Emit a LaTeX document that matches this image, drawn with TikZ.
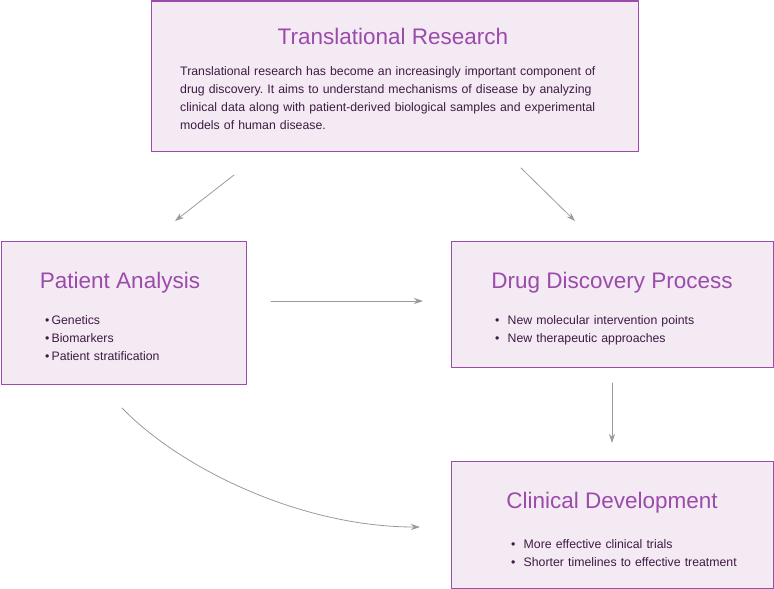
\documentclass[tikz,border=0pt]{standalone}
\usepackage{fontspec}
\setmainfont{Liberation Sans}
\usetikzlibrary{arrows.meta}
\definecolor{boxline}{HTML}{9B4BAA}
\definecolor{boxfill}{HTML}{F3EAF4}
\definecolor{ttlcol}{HTML}{9B4BAA}
\definecolor{txtcol}{HTML}{3F1B43}
\definecolor{arrcol}{HTML}{9A9A9A}
\frenchspacing
\begin{document}
\begin{tikzpicture}[x=1pt,y=-1pt,>={Stealth[length=9pt,width=6pt]},line join=round,line cap=round,
	box/.style={draw=boxline,fill=boxfill,line width=1pt,inner sep=0pt,anchor=north west},
	ttl/.style={text=ttlcol,font=\fontsize{22.5}{26}\selectfont,anchor=base,inner sep=0pt},
	txt/.style={text=txtcol,font=\fontsize{12.3}{18}\selectfont,align=left,anchor=base west,inner sep=0pt},
	conn/.style={->,draw=arrcol,line width=0.8pt}]
		\useasboundingbox (0,0) rectangle (774,589);
		% boxes
		\node[box,minimum width=487pt,minimum height=150pt] (trans) at (150.5,0.5) {};
		\node[box,minimum width=245pt,minimum height=143pt] (patient) at (0.5,240.5) {};
		\node[box,minimum width=322pt,minimum height=126pt] (drug) at (450.5,240.5) {};
		\node[box,minimum width=322pt,minimum height=127pt] (clinical) at (450.5,460.5) {};
		% titles and texts
		\node[ttl] (transT) at (393,44) {Translational Research};
		\node[txt,text width=440pt] (transX) at (180,75) {Translational research has become an increasingly important component of\\
			drug discovery. It aims to understand mechanisms of disease by analyzing\\
			clinical data along with patient-derived biological samples and experimental\\
			models of human disease.};
		\node[ttl] (patientT) at (120,288) {Patient Analysis};
		\node[txt,text width=190pt] (patientX) at (45,324) {•\,Genetics\\ •\,Biomarkers\\ •\,Patient stratification};
		\node[ttl] (drugT) at (612,288) {Drug Discovery Process};
		\node[txt,text width=260pt] (drugX) at (495,324) {•\ \ New molecular intervention points\\ •\ \ New therapeutic approaches};
		\node[ttl] (clinicalT) at (612,508) {Clinical Development};
		\node[txt,text width=260pt] (clinicalX) at (511,548) {•\ \ More effective clinical trials\\ •\ \ Shorter timelines to effective treatment};
		% connectors
		\coordinate (a1) at (234,175); \coordinate (b1) at (175,221);
		\coordinate (a2) at (521,168); \coordinate (b2) at (575,221);
		\coordinate (a3) at (271,301); \coordinate (b3) at (423,301);
		\coordinate (a4) at (612,383); \coordinate (b4) at (612,443);
		\coordinate (a5) at (122,408); \coordinate (b5) at (420,527);
		\draw[conn] (a1)--(b1);
		\draw[conn] (a2)--(b2);
		\draw[conn] (a3)--(b3);
		\draw[conn] (a4)--(b4);
		\draw[conn] (a5) .. controls (180,468) and (300,527) .. (b5);
\end{tikzpicture}
\end{document}
